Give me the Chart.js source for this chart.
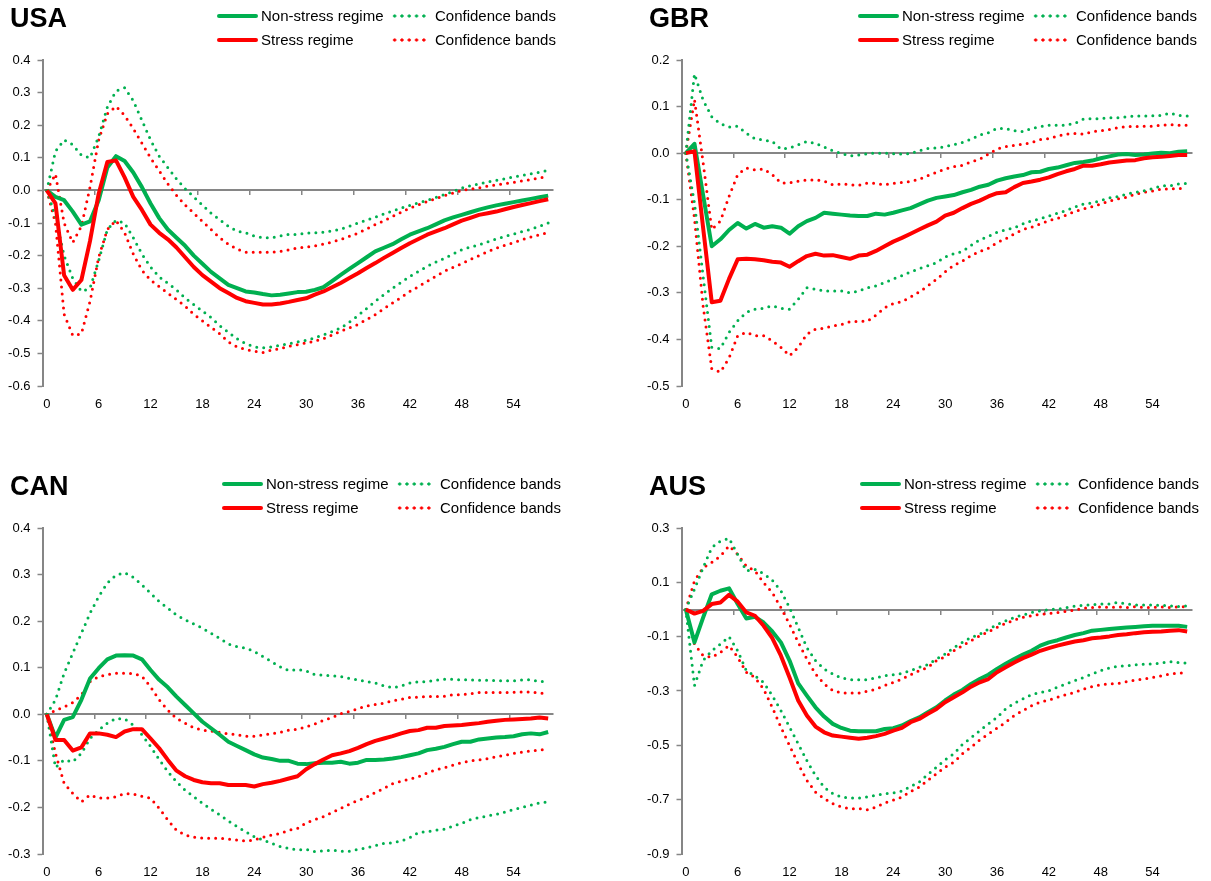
<!DOCTYPE html>
<html>
<head>
<meta charset="utf-8">
<title>Impulse responses: stress vs non-stress regime</title>
<script src="https://cdn.jsdelivr.net/npm/chart.js@4.4.1/dist/chart.umd.min.js"></script>
<style>
  body { margin: 0; background: #fff; overflow: hidden; font-family: Arial, "Liberation Sans", sans-serif; color: #000; }
  .panel { position: absolute; width: 572px; height: 413px; }
  .panel canvas { position: absolute; left: 0; top: 0; }
  .title { position: absolute; left: 10px; top: 5px; font-size: 27px; line-height: 27px; font-weight: bold; }
  .legend { position: absolute; top: 3.5px; display: grid; grid-template-columns: 174px auto; grid-auto-rows: 24.3px; font-size: 15px; }
  .item { display: flex; align-items: center; white-space: nowrap; }
  .solid { display: inline-block; width: 41px; height: 4px; margin-right: 3px; border-radius: 2px; }
  .dots { display: inline-block; width: 37px; height: 4px; margin-right: 7px; background-size: 7.3px 4px; background-repeat: repeat-x; }
</style>
</head>
<body>

<div class="panel" style="left:0;top:0"><canvas id="usa" width="572" height="413"></canvas><div class="title">USA</div><div class="legend" id="usa-legend" style="left:217px"></div></div>
<div class="panel" style="left:639px;top:0"><canvas id="gbr" width="572" height="413"></canvas><div class="title">GBR</div><div class="legend" id="gbr-legend" style="left:219px"></div></div>
<div class="panel" style="left:0;top:468px"><canvas id="can" width="572" height="413"></canvas><div class="title">CAN</div><div class="legend" id="can-legend" style="left:222px"></div></div>
<div class="panel" style="left:639px;top:468px"><canvas id="aus" width="572" height="413"></canvas><div class="title">AUS</div><div class="legend" id="aus-legend" style="left:221px"></div></div>

<script>
// months after the shock, 0..58
const months = Array.from({ length: 59 }, (_, i) => i);
const xTicks = [0, 6, 12, 18, 24, 30, 36, 42, 48, 54];
const xTickMarks = [5.5, 11.5, 17.5, 23.5, 29.5, 35.5, 41.5, 47.5, 53.5];

const usaTicks = [-0.6, -0.5, -0.4, -0.3, -0.2, -0.1, 0, 0.1, 0.2, 0.3, 0.4];
const gbrTicks = [-0.5, -0.4, -0.3, -0.2, -0.1, 0, 0.1, 0.2];
const canTicks = [-0.3, -0.2, -0.1, 0, 0.1, 0.2, 0.3, 0.4];
const ausTicks = [-0.9, -0.7, -0.5, -0.3, -0.1, 0.1, 0.3];

// USA
const usaNonStress = [
  0, -0.02, -0.03, -0.065, -0.105, -0.095, -0.03, 0.07, 0.105, 0.09,
  0.055, 0.01, -0.04, -0.085, -0.12, -0.145, -0.17, -0.2, -0.225, -0.25,
  -0.27, -0.29, -0.3, -0.31, -0.313, -0.318, -0.322, -0.32, -0.316, -0.312,
  -0.311, -0.305, -0.297, -0.278, -0.259, -0.241, -0.223, -0.205, -0.187, -0.176,
  -0.165, -0.15, -0.136, -0.126, -0.116, -0.104, -0.092, -0.083, -0.075, -0.067,
  -0.059, -0.052, -0.046, -0.041, -0.036, -0.031, -0.026, -0.021, -0.016];
const usaStress = [
  0, -0.04, -0.26, -0.305, -0.275, -0.155, -0.01, 0.087, 0.092, 0.04,
  -0.02, -0.06, -0.105, -0.13, -0.15, -0.175, -0.205, -0.235, -0.26, -0.28,
  -0.3, -0.315, -0.33, -0.34, -0.345, -0.35, -0.35, -0.347, -0.342, -0.336,
  -0.331, -0.32, -0.31, -0.297, -0.284, -0.269, -0.254, -0.238, -0.223, -0.207,
  -0.192, -0.177, -0.162, -0.149, -0.136, -0.126, -0.116, -0.104, -0.093, -0.084,
  -0.075, -0.07, -0.065, -0.058, -0.051, -0.045, -0.039, -0.033, -0.027];
const usaNonStressUp = [
  0, 0.12, 0.155, 0.14, 0.108, 0.1, 0.165, 0.255, 0.305, 0.315,
  0.275, 0.215, 0.155, 0.105, 0.07, 0.035, 0.005, -0.02, -0.045, -0.07,
  -0.09, -0.11, -0.125, -0.13, -0.14, -0.145, -0.145, -0.14, -0.135, -0.135,
  -0.131, -0.13, -0.128, -0.124, -0.119, -0.11, -0.1, -0.091, -0.082, -0.072,
  -0.063, -0.054, -0.046, -0.038, -0.031, -0.022, -0.013, -0.003, 0.007, 0.014,
  0.02, 0.026, 0.031, 0.036, 0.041, 0.046, 0.051, 0.056, 0.061];
const usaStressUp = [
  0, 0.05, -0.1, -0.16, -0.11, 0.01, 0.155, 0.235, 0.258, 0.23,
  0.19, 0.145, 0.1, 0.06, 0.02, -0.015, -0.045, -0.07, -0.095, -0.12,
  -0.145, -0.165, -0.18, -0.19, -0.19, -0.19, -0.19, -0.187, -0.182, -0.177,
  -0.174, -0.17, -0.165, -0.158, -0.151, -0.141, -0.131, -0.118, -0.105, -0.093,
  -0.08, -0.067, -0.054, -0.044, -0.034, -0.025, -0.016, -0.008, 0, 0.004,
  0.008, 0.013, 0.017, 0.021, 0.025, 0.029, 0.033, 0.038, 0.043];
const usaNonStressLow = [
  0, -0.08, -0.2, -0.27, -0.31, -0.3, -0.215, -0.12, -0.092, -0.1,
  -0.145, -0.195, -0.235, -0.265, -0.285, -0.305, -0.33, -0.35, -0.37, -0.39,
  -0.415, -0.435, -0.455, -0.47, -0.48, -0.483, -0.48, -0.475, -0.47, -0.465,
  -0.46, -0.452, -0.443, -0.433, -0.422, -0.404, -0.384, -0.362, -0.34, -0.32,
  -0.3, -0.282, -0.264, -0.248, -0.233, -0.22, -0.208, -0.195, -0.182, -0.174,
  -0.167, -0.158, -0.149, -0.141, -0.134, -0.126, -0.119, -0.11, -0.1];
const usaStressLow = [
  0, -0.1, -0.38, -0.445, -0.44, -0.34, -0.205, -0.12, -0.092, -0.13,
  -0.195, -0.245, -0.275, -0.295, -0.315, -0.335, -0.355, -0.38, -0.4, -0.42,
  -0.44, -0.465, -0.48, -0.488, -0.493, -0.497, -0.49, -0.485, -0.478, -0.473,
  -0.468, -0.462, -0.455, -0.444, -0.432, -0.422, -0.411, -0.396, -0.381, -0.363,
  -0.345, -0.328, -0.31, -0.295, -0.279, -0.263, -0.248, -0.236, -0.225, -0.212,
  -0.2, -0.188, -0.177, -0.168, -0.16, -0.151, -0.143, -0.136, -0.129];

// GBR
const gbrNonStress = [
  0, 0.02, -0.09, -0.2, -0.185, -0.165, -0.15, -0.162, -0.152, -0.16,
  -0.157, -0.16, -0.173, -0.157, -0.146, -0.139, -0.128, -0.13, -0.132, -0.134,
  -0.135, -0.135, -0.13, -0.132, -0.128, -0.123, -0.118, -0.11, -0.102, -0.096,
  -0.093, -0.09, -0.084, -0.079, -0.072, -0.068, -0.059, -0.054, -0.05, -0.047,
  -0.041, -0.04, -0.034, -0.031, -0.026, -0.021, -0.019, -0.016, -0.011, -0.007,
  -0.003, -0.002, -0.004, -0.003, -0.001, 0.001, 0, 0.003, 0.004];
const gbrStress = [
  0, 0.004, -0.16, -0.32, -0.317, -0.27, -0.228, -0.227, -0.228, -0.23,
  -0.233, -0.235, -0.244, -0.232, -0.221, -0.216, -0.22, -0.219, -0.223, -0.227,
  -0.22, -0.218, -0.21, -0.2, -0.19, -0.182, -0.173, -0.164, -0.155, -0.147,
  -0.134, -0.128, -0.118, -0.109, -0.102, -0.093, -0.086, -0.084, -0.073, -0.064,
  -0.061, -0.057, -0.052, -0.045, -0.039, -0.034, -0.027, -0.027, -0.024, -0.02,
  -0.018, -0.016, -0.015, -0.011, -0.009, -0.008, -0.006, -0.004, -0.004];
const gbrNonStressUp = [
  0, 0.17, 0.114, 0.078, 0.063, 0.056, 0.058, 0.043, 0.031, 0.028,
  0.025, 0.009, 0.011, 0.018, 0.025, 0.021, 0.013, 0.005, -0.001, -0.006,
  -0.004, -0.001, 0, 0, -0.001, -0.002, -0.001, 0.005, 0.01, 0.011,
  0.014, 0.018, 0.023, 0.03, 0.039, 0.044, 0.053, 0.053, 0.048, 0.046,
  0.053, 0.057, 0.06, 0.06, 0.06, 0.064, 0.073, 0.074, 0.074, 0.076,
  0.076, 0.078, 0.08, 0.08, 0.08, 0.081, 0.086, 0.081, 0.08];
const gbrStressUp = [
  0, 0.115, -0.02, -0.164, -0.146, -0.093, -0.046, -0.032, -0.036, -0.034,
  -0.046, -0.064, -0.064, -0.06, -0.058, -0.057, -0.06, -0.068, -0.066, -0.068,
  -0.069, -0.064, -0.065, -0.068, -0.065, -0.063, -0.061, -0.056, -0.048, -0.041,
  -0.034, -0.029, -0.026, -0.019, -0.013, -0.002, 0.009, 0.014, 0.017, 0.019,
  0.023, 0.029, 0.031, 0.037, 0.041, 0.042, 0.041, 0.046, 0.048, 0.051,
  0.055, 0.057, 0.057, 0.058, 0.058, 0.06, 0.061, 0.06, 0.06];
const gbrNonStressLow = [
  0, -0.107, -0.264, -0.417, -0.42, -0.385, -0.36, -0.342, -0.335, -0.333,
  -0.328, -0.333, -0.335, -0.314, -0.289, -0.292, -0.296, -0.296, -0.296, -0.3,
  -0.296, -0.289, -0.285, -0.278, -0.27, -0.263, -0.255, -0.248, -0.242, -0.235,
  -0.223, -0.216, -0.211, -0.198, -0.186, -0.179, -0.17, -0.165, -0.16, -0.152,
  -0.145, -0.141, -0.135, -0.129, -0.123, -0.116, -0.109, -0.107, -0.102, -0.096,
  -0.093, -0.088, -0.084, -0.081, -0.076, -0.07, -0.07, -0.066, -0.065];
const gbrStressLow = [
  0, -0.14, -0.328, -0.463, -0.47, -0.44, -0.392, -0.385, -0.392, -0.392,
  -0.403, -0.417, -0.435, -0.417, -0.389, -0.378, -0.376, -0.371, -0.368, -0.362,
  -0.361, -0.361, -0.348, -0.332, -0.323, -0.319, -0.309, -0.298, -0.285, -0.271,
  -0.255, -0.241, -0.232, -0.22, -0.211, -0.204, -0.192, -0.184, -0.173, -0.164,
  -0.159, -0.152, -0.145, -0.14, -0.133, -0.125, -0.12, -0.115, -0.109, -0.103,
  -0.098, -0.095, -0.088, -0.084, -0.081, -0.077, -0.077, -0.076, -0.075];

// CAN
const canNonStress = [
  0, -0.05, -0.012, -0.006, 0.031, 0.077, 0.099, 0.118, 0.126, 0.127,
  0.126, 0.118, 0.095, 0.074, 0.058, 0.038, 0.02, 0.002, -0.016, -0.03,
  -0.044, -0.059, -0.068, -0.077, -0.086, -0.093, -0.096, -0.1, -0.1, -0.106,
  -0.107, -0.105, -0.104, -0.104, -0.102, -0.106, -0.104, -0.098, -0.098, -0.097,
  -0.095, -0.092, -0.088, -0.084, -0.077, -0.074, -0.07, -0.064, -0.059, -0.059,
  -0.054, -0.052, -0.05, -0.049, -0.047, -0.043, -0.041, -0.043, -0.038];
const canStress = [
  0, -0.055, -0.055, -0.078, -0.071, -0.041, -0.041, -0.044, -0.049, -0.037,
  -0.032, -0.032, -0.052, -0.073, -0.098, -0.121, -0.133, -0.141, -0.146, -0.148,
  -0.148, -0.152, -0.152, -0.152, -0.155, -0.15, -0.147, -0.143, -0.138, -0.133,
  -0.118, -0.107, -0.097, -0.088, -0.084, -0.079, -0.072, -0.064, -0.057, -0.052,
  -0.047, -0.041, -0.036, -0.034, -0.029, -0.029, -0.025, -0.024, -0.023, -0.021,
  -0.019, -0.016, -0.014, -0.012, -0.011, -0.01, -0.009, -0.007, -0.009];
const canNonStressUp = [
  0, 0.031, 0.088, 0.131, 0.174, 0.217, 0.253, 0.282, 0.299, 0.304,
  0.294, 0.278, 0.26, 0.242, 0.228, 0.213, 0.203, 0.194, 0.185, 0.174,
  0.163, 0.151, 0.145, 0.142, 0.135, 0.124, 0.113, 0.102, 0.094, 0.096,
  0.093, 0.085, 0.084, 0.083, 0.081, 0.077, 0.074, 0.07, 0.067, 0.061,
  0.057, 0.061, 0.067, 0.07, 0.07, 0.073, 0.075, 0.075, 0.074, 0.074,
  0.073, 0.073, 0.072, 0.072, 0.072, 0.074, 0.074, 0.07, 0.072];
const canStressUp = [
  0, 0.008, 0.016, 0.025, 0.042, 0.07, 0.081, 0.085, 0.088, 0.088,
  0.087, 0.082, 0.059, 0.031, 0.009, -0.009, -0.019, -0.029, -0.034, -0.036,
  -0.039, -0.042, -0.044, -0.047, -0.047, -0.044, -0.042, -0.039, -0.034, -0.032,
  -0.027, -0.021, -0.013, -0.007, 0.001, 0.006, 0.012, 0.018, 0.021, 0.024,
  0.029, 0.032, 0.036, 0.037, 0.038, 0.038, 0.039, 0.042, 0.042, 0.044,
  0.047, 0.047, 0.047, 0.047, 0.047, 0.048, 0.048, 0.045, 0.045];
const canNonStressLow = [
  0, -0.114, -0.098, -0.102, -0.084, -0.052, -0.034, -0.019, -0.009, -0.01,
  -0.023, -0.044, -0.069, -0.097, -0.123, -0.145, -0.163, -0.177, -0.191, -0.204,
  -0.216, -0.229, -0.241, -0.252, -0.263, -0.27, -0.277, -0.284, -0.288, -0.291,
  -0.29, -0.295, -0.293, -0.292, -0.294, -0.294, -0.29, -0.287, -0.282, -0.277,
  -0.276, -0.272, -0.265, -0.254, -0.252, -0.249, -0.247, -0.24, -0.234, -0.226,
  -0.222, -0.218, -0.215, -0.21, -0.204, -0.2, -0.195, -0.19, -0.188];
const canStressLow = [
  0, -0.084, -0.148, -0.17, -0.188, -0.173, -0.18, -0.18, -0.177, -0.17,
  -0.171, -0.176, -0.18, -0.202, -0.227, -0.249, -0.259, -0.264, -0.266, -0.266,
  -0.266, -0.268, -0.27, -0.272, -0.27, -0.264, -0.259, -0.256, -0.249, -0.245,
  -0.233, -0.226, -0.22, -0.211, -0.202, -0.193, -0.185, -0.178, -0.168, -0.159,
  -0.149, -0.144, -0.139, -0.134, -0.126, -0.119, -0.115, -0.109, -0.104, -0.1,
  -0.098, -0.095, -0.091, -0.088, -0.084, -0.081, -0.079, -0.077, -0.075];

// AUS
const ausNonStress = [
  0, -0.121, -0.03, 0.056, 0.069, 0.078, 0.02, -0.033, -0.027, -0.048,
  -0.081, -0.121, -0.188, -0.272, -0.317, -0.36, -0.394, -0.421, -0.436, -0.446,
  -0.448, -0.448, -0.448, -0.44, -0.437, -0.427, -0.411, -0.397, -0.378, -0.36,
  -0.335, -0.313, -0.296, -0.274, -0.256, -0.24, -0.219, -0.2, -0.182, -0.166,
  -0.152, -0.133, -0.121, -0.113, -0.103, -0.094, -0.087, -0.078, -0.075, -0.072,
  -0.069, -0.066, -0.064, -0.062, -0.06, -0.06, -0.06, -0.06, -0.064];
const ausStress = [
  0, -0.015, -0.005, 0.02, 0.026, 0.054, 0.029, -0.011, -0.023, -0.06,
  -0.105, -0.17, -0.25, -0.335, -0.39, -0.431, -0.452, -0.464, -0.468, -0.472,
  -0.476, -0.472, -0.466, -0.458, -0.446, -0.436, -0.415, -0.403, -0.384, -0.366,
  -0.341, -0.323, -0.305, -0.284, -0.268, -0.256, -0.231, -0.213, -0.195, -0.179,
  -0.166, -0.152, -0.142, -0.133, -0.125, -0.118, -0.113, -0.106, -0.103, -0.099,
  -0.094, -0.091, -0.087, -0.084, -0.082, -0.081, -0.078, -0.076, -0.081];
const ausNonStressUp = [
  0, 0.075, 0.154, 0.228, 0.252, 0.262, 0.203, 0.142, 0.148, 0.132,
  0.108, 0.069, 0.007, -0.066, -0.14, -0.188, -0.219, -0.237, -0.252, -0.258,
  -0.259, -0.258, -0.252, -0.244, -0.24, -0.235, -0.225, -0.213, -0.203, -0.182,
  -0.164, -0.14, -0.121, -0.103, -0.091, -0.072, -0.056, -0.042, -0.029, -0.02,
  -0.011, -0.005, 0, 0.001, 0.007, 0.012, 0.016, 0.017, 0.02, 0.02,
  0.026, 0.02, 0.017, 0.017, 0.016, 0.016, 0.013, 0.011, 0.013];
const ausStressUp = [
  0, 0.105, 0.154, 0.173, 0.197, 0.234, 0.203, 0.16, 0.142, 0.099,
  0.062, 0.007, -0.054, -0.121, -0.182, -0.237, -0.274, -0.298, -0.307, -0.307,
  -0.308, -0.301, -0.293, -0.28, -0.268, -0.256, -0.24, -0.225, -0.213, -0.188,
  -0.174, -0.152, -0.133, -0.115, -0.097, -0.082, -0.066, -0.051, -0.039, -0.029,
  -0.023, -0.017, -0.015, -0.011, -0.007, -0.002, 0.005, 0.007, 0.01, 0.007,
  0.01, 0.007, 0.01, 0.007, 0.007, 0.01, 0.007, 0.01, 0.011];
const ausNonStressLow = [
  0, -0.28, -0.188, -0.152, -0.127, -0.1, -0.152, -0.225, -0.244, -0.268,
  -0.317, -0.372, -0.433, -0.494, -0.556, -0.611, -0.654, -0.678, -0.69, -0.694,
  -0.694, -0.69, -0.684, -0.678, -0.675, -0.668, -0.651, -0.635, -0.607, -0.58,
  -0.553, -0.531, -0.497, -0.472, -0.446, -0.421, -0.397, -0.366, -0.345, -0.329,
  -0.313, -0.305, -0.299, -0.286, -0.274, -0.262, -0.25, -0.237, -0.225, -0.215,
  -0.209, -0.207, -0.204, -0.201, -0.201, -0.197, -0.192, -0.195, -0.197];
const ausStressLow = [
  0, -0.127, -0.17, -0.176, -0.158, -0.133, -0.176, -0.231, -0.25, -0.293,
  -0.36, -0.433, -0.501, -0.568, -0.629, -0.672, -0.696, -0.715, -0.727, -0.733,
  -0.733, -0.737, -0.727, -0.712, -0.702, -0.69, -0.67, -0.654, -0.629, -0.605,
  -0.58, -0.562, -0.531, -0.507, -0.48, -0.458, -0.437, -0.415, -0.39, -0.372,
  -0.354, -0.341, -0.333, -0.323, -0.313, -0.305, -0.293, -0.284, -0.277, -0.274,
  -0.272, -0.266, -0.259, -0.256, -0.25, -0.244, -0.237, -0.235, -0.231];

const GREEN = '#00B050';
const RED = '#FF0000';
const GREY = '#868686';
const FONT = { family: 'Arial, "Liberation Sans", sans-serif', size: 13 };

// draws the legend as html so the two columns line up like the original
const htmlLegend = {
  id: 'htmlLegend',
  afterUpdate(chart, args, opts) {
    const box = document.getElementById(opts.containerID);
    box.innerHTML = '';
    chart.data.datasets
      .filter(d => d.legendSlot !== undefined)
      .sort((a, b) => a.legendSlot - b.legendSlot)
      .forEach(d => {
        const item = document.createElement('div');
        item.className = 'item';
        const mark = document.createElement('span');
        if (d.borderDash) {
          mark.className = 'dots';
          mark.style.backgroundImage = `radial-gradient(circle, ${d.borderColor} 1.3px, transparent 1.9px)`;
        } else {
          mark.className = 'solid';
          mark.style.background = d.borderColor;
        }
        item.append(mark, document.createTextNode(d.label));
        box.append(item);
      });
  }
};

function solid(label, data, color, order, slot) {
  return { label, data, borderColor: color, borderWidth: 4, borderJoinStyle: 'round', order, legendSlot: slot };
}
function dotted(label, data, color, slot) {
  return { label, data, borderColor: color, borderWidth: 3, borderDash: [0, 7], borderCapStyle: 'round', order: 5, legendSlot: slot };
}

function drawPanel(id, s, yTicks) {
  new Chart(document.getElementById(id), {
    type: 'line',
    data: {
      labels: months,
      datasets: [
        solid('Non-stress regime', s.nonStress, GREEN, 1, 0),
        dotted('Confidence bands', s.nonStressUp, GREEN, 1),
        solid('Stress regime', s.stress, RED, 0, 2),
        dotted('Confidence bands', s.stressUp, RED, 3),
        dotted('Confidence bands', s.nonStressLow, GREEN),
        dotted('Confidence bands', s.stressLow, RED)
      ]
    },
    options: {
      responsive: false,
      animation: false,
      devicePixelRatio: 1,
      layout: { padding: { left: 0, top: 60, right: 19.5, bottom: 0 } },
      elements: { point: { radius: 0 }, line: { tension: 0 } },
      plugins: {
        legend: { display: false },
        tooltip: { enabled: false },
        htmlLegend: { containerID: id + '-legend' }
      },
      scales: {
        x: {
          type: 'linear', min: -0.5, max: 58.5,
          afterBuildTicks: sc => { sc.ticks = xTicks.map(v => ({ value: v })); },
          ticks: { color: '#000', font: FONT, padding: 11, autoSkip: false, maxRotation: 0, callback: v => String(v) },
          grid: { display: false, drawTicks: false, tickLength: 0 },
          border: { display: false },
          afterFit: sc => { sc.height = 27; }
        },
        // horizontal axis crossing at zero, with its tick marks between categories
        x2: {
          type: 'linear', min: -0.5, max: 58.5,
          position: { y: 0 },
          afterBuildTicks: sc => { sc.ticks = xTickMarks.map(v => ({ value: v })); },
          ticks: { display: false },
          grid: { drawOnChartArea: false, tickLength: 4, color: GREY, lineWidth: 1.5 },
          border: { color: GREY, width: 2 }
        },
        y: {
          min: yTicks[0], max: yTicks[yTicks.length - 1],
          afterBuildTicks: sc => { sc.ticks = yTicks.map(v => ({ value: v })); },
          ticks: { color: '#000', font: FONT, padding: 7, callback: v => v.toFixed(1) },
          grid: { drawOnChartArea: false, tickLength: 5, tickColor: GREY, tickWidth: 1.5 },
          border: { color: GREY, width: 2 },
          afterFit: sc => { sc.width = 42.5; }
        }
      }
    },
    plugins: [htmlLegend]
  });
}

drawPanel('usa', { nonStress: usaNonStress, stress: usaStress, nonStressUp: usaNonStressUp, stressUp: usaStressUp, nonStressLow: usaNonStressLow, stressLow: usaStressLow }, usaTicks);
drawPanel('gbr', { nonStress: gbrNonStress, stress: gbrStress, nonStressUp: gbrNonStressUp, stressUp: gbrStressUp, nonStressLow: gbrNonStressLow, stressLow: gbrStressLow }, gbrTicks);
drawPanel('can', { nonStress: canNonStress, stress: canStress, nonStressUp: canNonStressUp, stressUp: canStressUp, nonStressLow: canNonStressLow, stressLow: canStressLow }, canTicks);
drawPanel('aus', { nonStress: ausNonStress, stress: ausStress, nonStressUp: ausNonStressUp, stressUp: ausStressUp, nonStressLow: ausNonStressLow, stressLow: ausStressLow }, ausTicks);
</script>
</body>
</html>
